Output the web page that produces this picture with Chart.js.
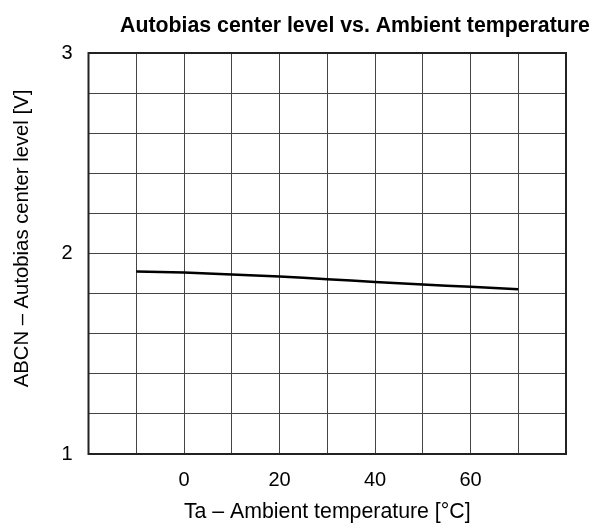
<!DOCTYPE html>
<html>
<head>
<meta charset="utf-8">
<script src="https://cdn.jsdelivr.net/npm/chart.js@4"></script>
<style>
  html, body { margin: 0; padding: 0; background: #fff; }
  #wrap { width: 607px; height: 529px; }
</style>
</head>
<body>
<div id="wrap"><canvas id="chart" width="607" height="529"></canvas></div>
<script>
const temperature = [-10, 0, 10, 20, 30, 40, 50, 60, 70];
const abcnLevel = [1.91, 1.905, 1.895, 1.885, 1.872, 1.858, 1.845, 1.834, 1.822];
const xTickLabels = [0, 20, 40, 60];
const yTickLabels = [1, 2, 3];

const FONT = "'Liberation Sans', Arial, sans-serif";

// title and y-axis label sit off-centre in the original, so draw them by hand
const textPlugin = {
  id: 'offsetText',
  afterDraw(chart) {
    const ctx = chart.ctx;
    ctx.save();
    ctx.fillStyle = '#000';
    ctx.textAlign = 'center';
    ctx.font = 'bold 21.3px ' + FONT;
    ctx.textBaseline = 'alphabetic';
    ctx.fillText('Autobias center level vs. Ambient temperature', 355, 32);
    ctx.translate(22, 238.5);
    ctx.rotate(-Math.PI / 2);
    ctx.font = '20.3px ' + FONT;
    ctx.textBaseline = 'middle';
    ctx.fillText('ABCN – Autobias center level [V]', 0, 0);
    ctx.restore();
  },
};

const framePlugin = {
  id: 'frame',
  afterDatasetsDraw(chart) {
    const { ctx, chartArea: a } = chart;
    ctx.save();
    ctx.strokeStyle = '#222';
    ctx.lineWidth = 2;
    ctx.strokeRect(a.left, a.top, a.right - a.left, a.bottom - a.top);
    ctx.restore();
  },
};

new Chart(document.getElementById('chart'), {
  type: 'line',
  data: {
    datasets: [{
      data: temperature.map((t, i) => ({ x: t, y: abcnLevel[i] })),
      borderColor: '#000',
      borderWidth: 2.5,
      pointRadius: 0,
      tension: 0.3,
      fill: false,
    }],
  },
  options: {
    responsive: false,
    animation: false,
    layout: { padding: { top: 53, right: 41, left: 0, bottom: 0 } },
    plugins: { legend: { display: false }, tooltip: { enabled: false } },
    scales: {
      x: {
        type: 'linear',
        min: -20,
        max: 80,
        afterFit(s) { s.height = 75; },
        border: { display: false },
        grid: { color: '#444', lineWidth: 1, drawTicks: false },
        ticks: {
          stepSize: 10,
          padding: 14,
          color: '#000',
          font: { family: FONT, size: 20 },
          autoSkip: false,
          maxRotation: 0,
          callback: (v) => (xTickLabels.includes(v) ? String(v) : ''),
        },
        title: {
          display: true,
          text: 'Ta – Ambient temperature [°C]',
          color: '#000',
          font: { family: FONT, size: 21.3 },
          padding: { top: 2 },
        },
      },
      y: {
        min: 1,
        max: 3,
        afterFit(s) { s.width = 88.5; },
        border: { display: false },
        grid: { color: '#444', lineWidth: 1, drawTicks: false },
        ticks: {
          stepSize: 0.2,
          padding: 16,
          color: '#000',
          font: { family: FONT, size: 20 },
          autoSkip: false,
          callback: (v) => {
            const r = Math.round(v * 10) / 10;
            return yTickLabels.includes(r) ? String(r) : '';
          },
        },
      },
    },
  },
  plugins: [textPlugin, framePlugin],
});
</script>
</body>
</html>
